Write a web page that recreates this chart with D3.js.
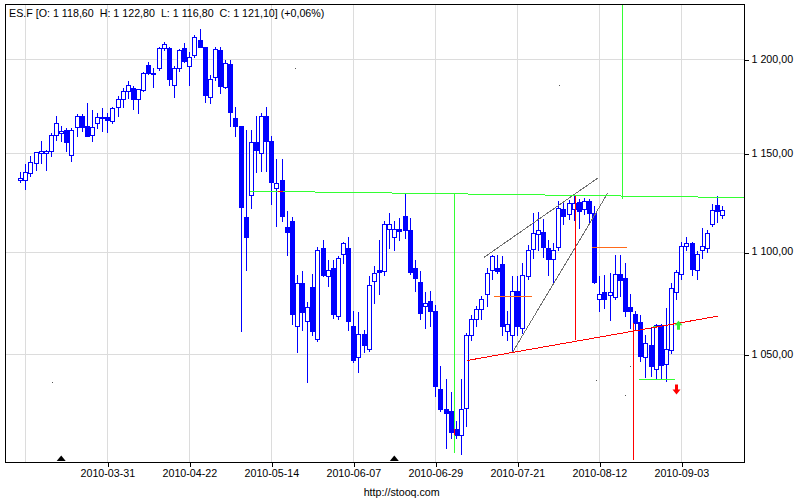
<!DOCTYPE html>
<html><head><meta charset="utf-8">
<script src="https://cdn.jsdelivr.net/npm/d3@7"></script>
<style>
body{margin:0;background:#fff}
svg{display:block}
text{font-family:"Liberation Sans",Arial,sans-serif;fill:#000}
</style>
</head><body>
<svg id="chart" width="800" height="500"></svg>
<script>
// ---------------- data ----------------
const startDate = "2010-03-08";   // first session (weekday sessions follow)
const opens = [1136.3,1136.3,1139.9,1145.0,1150.1,1150.3,1151.2,1159.7,1160.7,1162.0,
1149.1,1163.7,1169.9,1164.6,1159.7,1166.1,1168.5,1168.9,1167.1,1174.4,
1178.8,1183.2,1184.7,1178.5,1183.4,1197.1,1192.7,1195.3,1206.4,1206.1,
1186.1,1195.6,1206.4,1196.7,1202.5,1210.6,1206.6,1179.9,1190.5,1205.2,
1185.2,1197.6,1168.7,1164.3,1117.5,1128.5,1156.0,1150.1,1169.6,1156.3,
1132.3,1136.0,1112.2,1115.2,1063.4,1084.6,1065.9,1082.6,1057.3,1101.7,
1087.8,1091.9,1068.3,1098.8,1101.7,1063.4,1048.9,1059.9,1052.4,1085.3,
1090.7,1090.2,1111.4,1107.3,1111.4,1118.1,1111.0,1091.9,1085.1,1073.2,
1075.6,1070.7,1033.8,1024.5,1023.3,1015.2,1012.1,1024.9,1059.4,1066.7,
1071.6,1078.9,1090.7,1091.9,1094.0,1061.0,1059.4,1080.5,1062.7,1087.8,
1101.2,1109.0,1109.6,1101.7,1096.3,1102.5,1121.6,1118.7,1121.2,1124.9,
1121.6,1125.4,1119.5,1076.4,1080.0,1078.4,1077.7,1089.1,1087.0,1072.7,
1069.5,1065.4,1048.6,1054.5,1043.0,1063.8,1045.5,1052.1,1080.2,1088.9,
1102.9,1104.2,1091.0,1100.8,1101.7,1113.6,1123.2,1118.6];
const highs = [1140.4,1144.6,1148.4,1150.8,1156.3,1151.9,1160.7,1169.9,1164.3,1163.4,
1163.4,1170.5,1170.5,1176.3,1172.6,1171.4,1174.0,1171.4,1174.6,1180.2,
1184.7,1188.2,1185.9,1184.1,1193.0,1198.8,1195.3,1206.6,1209.7,1207.0,
1196.2,1205.6,1209.2,1204.3,1213.4,1216.5,1206.6,1191.8,1207.0,1207.0,
1199.7,1199.7,1174.6,1164.6,1162.0,1162.1,1169.9,1171.0,1174.6,1159.3,
1147.0,1147.0,1120.3,1117.5,1088.6,1090.2,1075.1,1089.1,1102.5,1105.6,
1095.9,1095.9,1097.9,1105.0,1107.5,1070.7,1070.1,1061.8,1087.8,1093.0,
1105.9,1115.2,1119.5,1115.2,1117.0,1129.7,1117.0,1095.9,1090.2,1080.0,
1080.5,1073.5,1044.6,1038.4,1032.2,1018.8,1038.1,1060.4,1068.6,1073.2,
1078.0,1091.9,1098.3,1098.3,1097.9,1070.7,1087.8,1087.8,1094.3,1103.4,
1119.5,1119.7,1116.1,1105.9,1104.2,1125.4,1124.9,1125.8,1127.8,1126.7,
1127.2,1126.3,1122.7,1087.8,1088.6,1089.4,1098.3,1098.3,1094.3,1078.9,
1070.7,1068.6,1059.4,1062.7,1064.3,1064.3,1072.4,1084.6,1091.0,1105.0,
1107.3,1105.0,1100.5,1111.9,1110.6,1123.8,1128.0,1122.8];
const lows = [1135.1,1131.4,1138.2,1141.2,1145.0,1141.2,1148.4,1157.2,1156.3,1151.0,
1146.3,1158.9,1161.6,1158.9,1156.3,1163.4,1161.6,1161.1,1166.1,1169.6,
1174.6,1179.4,1173.1,1171.4,1182.9,1192.3,1185.2,1194.0,1205.2,1186.4,
1179.7,1193.5,1198.8,1186.4,1201.5,1207.0,1177.0,1176.7,1189.1,1182.0,
1184.7,1164.3,1158.9,1061.0,1090.7,1122.1,1140.2,1140.7,1140.7,1123.8,
1112.7,1115.2,1098.3,1064.3,1051.3,1061.8,1036.8,1059.4,1056.5,1087.8,
1082.9,1067.5,1066.7,1094.3,1061.8,1046.4,1041.5,1051.3,1051.6,1074.8,
1078.9,1088.6,1101.7,1100.8,1106.0,1106.8,1089.1,1080.5,1066.7,1062.7,
1063.4,1030.3,1023.3,1006.4,1011.0,1011.0,1003.6,1016.4,1057.0,1063.4,
1066.7,1073.2,1086.2,1089.6,1059.4,1057.0,1051.3,1059.4,1060.4,1086.2,
1096.9,1100.8,1097.5,1088.6,1084.2,1100.8,1113.6,1116.1,1115.6,1111.9,
1118.7,1113.6,1084.2,1070.7,1072.4,1066.2,1076.4,1078.0,1068.3,1062.7,
1061.8,1046.6,1039.1,1039.9,1038.1,1038.9,1037.3,1050.5,1076.8,1086.5,
1100.8,1088.6,1086.5,1096.7,1100.0,1112.7,1114.7,1116.8];
const closes = [1137.4,1140.4,1145.5,1150.6,1151.2,1151.3,1159.7,1166.1,1161.6,1155.7,
1162.5,1169.9,1163.7,1159.3,1163.7,1168.9,1169.3,1167.7,1174.0,1178.5,
1183.2,1186.4,1178.8,1183.8,1192.7,1192.7,1192.1,1206.1,1208.3,1189.5,
1195.6,1205.2,1199.4,1201.5,1212.4,1207.0,1180.7,1189.6,1205.6,1185.5,
1198.0,1171.7,1164.3,1122.4,1107.3,1156.0,1151.6,1169.9,1156.3,1135.1,
1134.8,1117.8,1109.6,1069.1,1084.6,1070.3,1072.9,1061.0,1100.8,1088.6,
1090.6,1069.1,1096.7,1104.2,1065.9,1047.4,1059.9,1054.5,1083.7,1089.4,
1090.1,1113.6,1113.9,1111.4,1110.1,1111.0,1089.7,1087.0,1070.0,1074.8,
1070.7,1035.0,1024.1,1022.3,1013.6,1012.1,1024.5,1059.4,1067.0,1071.9,
1076.4,1089.4,1097.9,1090.2,1063.4,1064.3,1080.5,1063.4,1088.3,1100.8,
1109.3,1110.6,1102.2,1096.3,1100.8,1122.1,1118.1,1124.6,1124.3,1120.3,
1125.4,1119.5,1084.9,1079.2,1076.4,1079.8,1089.1,1085.8,1070.7,1070.7,
1065.1,1049.2,1055.4,1044.2,1063.8,1045.0,1052.4,1082.1,1089.9,1103.0,
1104.2,1091.4,1098.7,1102.9,1109.3,1120.8,1120.3,1121.1];

const titleText = "ES.F [O: 1 118,60  H: 1 122,80  L: 1 116,80  C: 1 121,10] (+0,06%)";
const xTickLabels = ["2010-03-31","2010-04-22","2010-05-14","2010-06-07","2010-06-29","2010-07-21","2010-08-12","2010-09-03"];
const xGridDates = ["2010-03-09","2010-03-31","2010-04-22","2010-05-14","2010-06-07","2010-06-29","2010-07-21","2010-08-12","2010-09-03"];
const yTicks = [1050, 1100, 1150, 1200];
const yDomain = [1000, 1230.5];
const rollDates = ["2010-03-18", "2010-06-17"];

// drawn annotations: [[barIndex, price], [barIndex, price]]
const greenLines = [
  [[44.8,1130.5],[141.3,1127.2]],
  [[84.7,1129.2],[84.7,1004.3]],
  [[117.5,1230.5],[117.5,1126.3]],
  [[120.7,1038.1],[127.8,1038.1]],
  [[123.5,1063.5],[125.2,1063.5]]
];
const redLines = [
  [[87.1,1047.0],[136.2,1068.3]],
  [[108.3,1127.8],[108.3,1057.0]],
  [[119.7,1065.1],[119.7,1000.9]],
  [[84.7,1015.2],[84.7,1012.1]],
  [[50.3,1130.3],[51.3,1130.2]]
];
const grayLines = [
  [[90.5,1097.1],[112.8,1137.4]],
  [[96.1,1051.1],[114.6,1129.3]]
];
const orangeLines = [
  [[92.5,1077.8],[99.8,1077.8]],
  [[111.5,1102.2],[118.5,1102.2]]
];
const downArrows = [[128.0, 1031.1]];
const upArrows = [[128.4, 1066.0]];
const grayDots = [[53.7,1195.3],[105.1,1186.3],[6.26,1037.0],[112.4,1037.9],[118.1,1031.0],[119.0,1044.6]];

// ---------------- build ----------------
const dates = d3.utcDay.range(new Date(startDate + "T00:00:00Z"), new Date("2011-01-01T00:00:00Z"))
  .filter(d => d.getUTCDay() > 0 && d.getUTCDay() < 6)
  .slice(0, opens.length)
  .map(d => d.toISOString().slice(0, 10));
const idx = s => dates.indexOf(s);
const bars = dates.map((d, i) => ({d, i, o: opens[i], h: highs[i], l: lows[i], c: closes[i]}));

const L = 5.5, R = 744.5, T = 4.5, B = 462.5;
const x = d3.scaleLinear().domain([0, dates.length - 1]).range([20.2, 722.3]);
const y = d3.scaleLog().domain(yDomain).range([462, 4]);
const px = v => Math.round(x(v));

const svg = d3.select("#chart");
const loc = d3.formatLocale({decimal: ",", thousands: "\u00a0", grouping: [3], currency: ["", ""]});
const fmt = loc.format(",.2f");

// grid
const grid = svg.append("g").attr("shape-rendering", "crispEdges").attr("stroke", "#dcdcdc").attr("stroke-width", 1);
grid.selectAll("line.v").data(xGridDates).join("line")
  .attr("x1", d => px(idx(d)) + 0.5).attr("x2", d => px(idx(d)) + 0.5)
  .attr("y1", T).attr("y2", B);
grid.selectAll("line.h").data(yTicks).join("line")
  .attr("x1", L).attr("x2", R)
  .attr("y1", d => Math.round(y(d)) + 0.5).attr("y2", d => Math.round(y(d)) + 0.5);

// candles
const cg = svg.append("g").attr("shape-rendering", "crispEdges");
const cand = cg.selectAll("g").data(bars).join("g");
cand.append("line")
  .attr("x1", d => px(d.i) + 0.5).attr("x2", d => px(d.i) + 0.5)
  .attr("y1", d => Math.round(y(d.h))).attr("y2", d => Math.round(y(d.l)) + 1)
  .attr("stroke", "#0000ff");
cand.filter(d => d.c >= d.o).append("rect")
  .attr("x", d => px(d.i) - 1.5).attr("width", 4)
  .attr("y", d => Math.round(y(d.c)) + 0.5)
  .attr("height", d => Math.max(1, Math.round(y(d.o)) - Math.round(y(d.c))))
  .attr("fill", "#fff").attr("stroke", "#0000ff");
cand.filter(d => d.c < d.o).append("rect")
  .attr("x", d => px(d.i) - 2).attr("width", 5)
  .attr("y", d => Math.round(y(d.o)))
  .attr("height", d => Math.max(2, Math.round(y(d.c)) - Math.round(y(d.o)) + 1))
  .attr("fill", "#0000ff");

// annotations
const ag = svg.append("g").attr("shape-rendering", "crispEdges");
function drawLines(arr, color) {
  ag.append("g").selectAll("line").data(arr).join("line")
    .attr("x1", d => x(d[0][0])).attr("y1", d => y(d[0][1]))
    .attr("x2", d => x(d[1][0])).attr("y2", d => y(d[1][1]))
    .attr("stroke", color).attr("stroke-width", 1);
}
drawLines(grayLines, "#707070");
drawLines(orangeLines, "#ff6a1a");
drawLines(greenLines, "#33ff33");
drawLines(redLines, "#ff0000");

ag.append("g").selectAll("rect").data(grayDots).join("rect")
  .attr("x", d => Math.round(x(d[0]))).attr("y", d => Math.round(y(d[1])))
  .attr("width", 1).attr("height", 1).attr("fill", "#555");

const arrowG = svg.append("g");
arrowG.selectAll("path.dn").data(downArrows).join("path")
  .attr("d", d => { const cx = Math.round(x(d[0])) + 0.5, ty = y(d[1]);
    return `M${cx-1.5},${ty-10}H${cx+1.5}V${ty-5}H${cx+4}L${cx},${ty}L${cx-4},${ty-5}H${cx-1.5}Z`; })
  .attr("fill", "#ff0000");
arrowG.selectAll("path.up").data(upArrows).join("path")
  .attr("d", d => { const cx = Math.round(x(d[0])) + 0.5, ty = y(d[1]);
    return `M${cx-1.5},${ty+9}H${cx+1.5}V${ty+4.5}H${cx+4}L${cx},${ty}L${cx-4},${ty+4.5}H${cx-1.5}Z`; })
  .attr("fill", "#33ee33");

// roll markers
svg.append("g").selectAll("path").data(rollDates).join("path")
  .attr("d", d => { const cx = x(idx(d)); return `M${cx-4.5},461L${cx},455.5L${cx+4.5},461Z`; })
  .attr("fill", "#000");

// frame
svg.append("rect").attr("x", L).attr("y", T).attr("width", R - L).attr("height", B - T)
  .attr("fill", "none").attr("stroke", "#000").attr("shape-rendering", "crispEdges");

// axes
const yAxis = d3.axisRight(y).tickValues(yTicks).tickFormat(fmt).tickSize(4).tickPadding(3);
const ya = svg.append("g").attr("transform", `translate(${R},0)`).call(yAxis);
ya.select(".domain").remove();
ya.selectAll("line").attr("shape-rendering", "crispEdges")
  .attr("transform", d => `translate(0,${Math.round(y(d)) + 0.5 - y(d)})`);
ya.selectAll("text").attr("font-size", "10.7px").attr("font-family", '"Liberation Sans",Arial,sans-serif');

const xAxis = d3.axisBottom(x).tickValues(xTickLabels.map(idx)).tickFormat(i => dates[i]).tickSize(4).tickPadding(3);
const xa = svg.append("g").attr("transform", `translate(0,${B})`).call(xAxis);
xa.select(".domain").remove();
xa.selectAll("line").attr("shape-rendering", "crispEdges")
  .attr("transform", d => `translate(${px(d) + 0.5 - x(d)},0)`);
xa.selectAll("text").attr("font-size", "10.7px").attr("font-family", '"Liberation Sans",Arial,sans-serif');

// texts
svg.append("text").attr("x", 9).attr("y", 17.3).attr("font-size", "10.7px")
  .style("white-space", "pre").text(titleText);
svg.append("text").attr("x", 401.7).attr("y", 496).attr("text-anchor", "middle")
  .attr("font-size", "10.7px").text("http://stooq.com");
</script>
</body></html>
